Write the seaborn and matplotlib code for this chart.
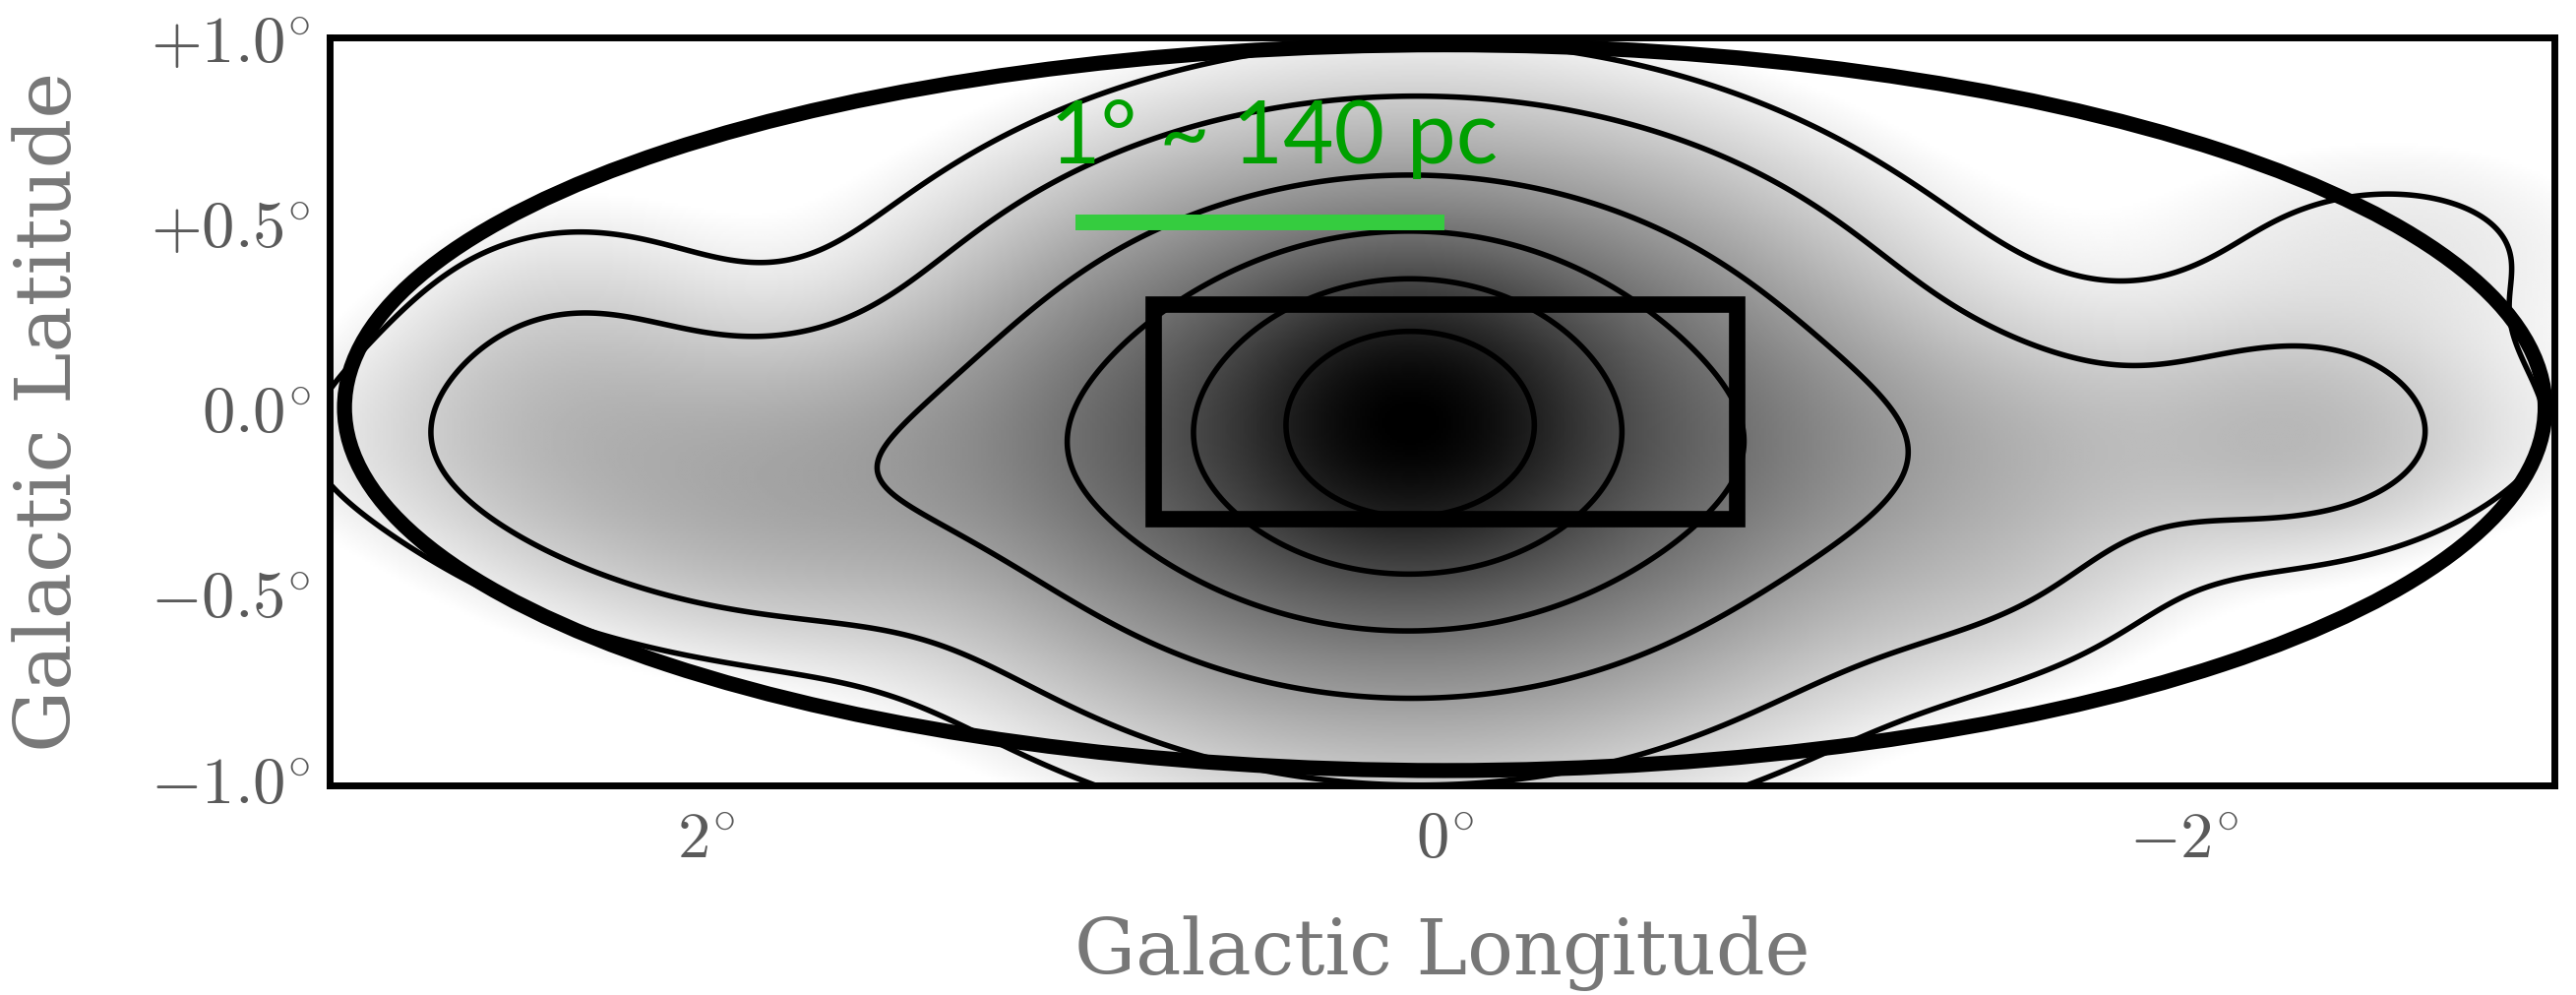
import numpy as np
import matplotlib
matplotlib.use("Agg")
import matplotlib.pyplot as plt
from matplotlib.colors import LogNorm
from matplotlib.patches import Ellipse, Rectangle
import seaborn as sns

# ---------------- data ----------------
# emission components (Galactic longitude / latitude in degrees)
comp_amp = [1.0, 0.30, 0.10, 0.036, 0.022, 0.016, 0.015, 0.010, 0.008, 0.006]
comp_l = [0.09, 0.13, 0.05, 0.00, 1.80, 2.38, -2.33, -1.45, -2.60, 0.40]
comp_b = [-0.035, -0.07, -0.10, -0.10, -0.30, 0.04, -0.07, -0.45, 0.45, -0.05]
comp_sl = [0.24, 0.50, 0.70, 1.50, 0.40, 0.32, 0.28, 0.35, 0.50, 3.20]
comp_sb = [0.19, 0.30, 0.47, 0.20, 0.22, 0.30, 0.20, 0.20, 0.25, 0.85]

# points on each contour (where they cross the plane)
anchor_l = [0.43, 0.68, 1.02, 1.48, 2.74, -2.98]
anchor_b = [-0.04, -0.05, -0.06, -0.06, -0.02, -0.04]

# overlays
ellipse_center = (0.0, 0.0)
ellipse_size = (5.96, 1.96)
box_l = [-0.79, 0.79]
box_b = [-0.30, 0.28]
bar_l = [1.0, 0.0]
bar_b = [0.5, 0.5]
scale_text = "1° ~ 140 pc"
text_pos = (1.07, 0.66)

xticks_major = [2, 0, -2]
xtick_labels = [r"$2^{\circ}$", r"$0^{\circ}$", r"$-2^{\circ}$"]
yticks_major = [1.0, 0.5, 0.0, -0.5, -1.0]
ytick_labels = [r"$+1.0^{\circ}$", r"$+0.5^{\circ}$", r"$0.0^{\circ}$",
                r"$-0.5^{\circ}$", r"$-1.0^{\circ}$"]
xlim = (3.02, -3.005)
ylim = (-1.02, 1.0)

# ---------------- figure ----------------
sns.set_style("white")
plt.rcParams["mathtext.fontset"] = "cm"

fig = plt.figure(figsize=(26.18, 10.11), dpi=100)
ax = fig.add_axes([0.128, 0.2107, 0.8636, 0.7517])

lg = np.linspace(3.1, -3.1, 900)
bg = np.linspace(-1.1, 1.1, 340)
L, B = np.meshgrid(lg, bg)


def field(l, b):
    f = np.zeros_like(np.asarray(l, dtype=float))
    for a, l0, b0, sl, sb in zip(comp_amp, comp_l, comp_b, comp_sl, comp_sb):
        f = f + a * np.exp(-0.5 * ((l - l0) / sl) ** 2 - 0.5 * ((b - b0) / sb) ** 2)
    return f


F = field(L, B)
levels = np.sort(field(np.array(anchor_l), np.array(anchor_b)))

ax.imshow(F, extent=[lg[0], lg[-1], bg[0], bg[-1]], origin="lower",
          cmap="gray_r", norm=LogNorm(vmin=levels[0] * 0.7, vmax=F.max()),
          aspect="auto", interpolation="bilinear", zorder=1)
ax.contour(L, B, F, levels=levels, colors="black", linewidths=4, zorder=2)

ax.add_patch(Ellipse(ellipse_center, ellipse_size[0], ellipse_size[1],
                     fill=False, edgecolor="black", linewidth=11, zorder=3))
ax.add_patch(Rectangle((box_l[0], box_b[0]), box_l[1] - box_l[0], box_b[1] - box_b[0],
                       fill=False, edgecolor="black", linewidth=12, zorder=3))

sns.lineplot(x=bar_l, y=bar_b, ax=ax, color="#35cc3f", linewidth=11.5,
             solid_capstyle="butt", zorder=4, legend=False)
ax.text(text_pos[0], text_pos[1], scale_text, color="#00a000", fontsize=64,
        family=["Lato", "DejaVu Sans"], ha="left", va="baseline", zorder=5)

ax.set_xlim(*xlim)
ax.set_ylim(*ylim)
ax.set_xticks(xticks_major)
ax.set_xticklabels(xtick_labels)
ax.set_yticks(yticks_major)
ax.set_yticklabels(ytick_labels)
ax.set_xticks(np.arange(-3.0, 3.01, 0.5), minor=True)
ax.set_yticks(np.arange(-1.0, 1.01, 0.1), minor=True)
ax.tick_params(which="both", direction="in", top=True, right=True,
               color="#444444", width=1.6, labelcolor="#5a5a5a", labelsize=48)
ax.tick_params(which="major", length=27, pad=14)
ax.tick_params(which="minor", length=10)
ax.tick_params(axis="x", pad=16)
for s in ax.spines.values():
    s.set_linewidth(5)
    s.set_color("black")
    s.set_zorder(6)

xl = ax.set_xlabel("Galactic Longitude", family="DejaVu Serif", fontsize=56,
                   color="#777777")
ax.xaxis.set_label_coords(0.5, -0.224)
xl.set_va("center")
yl = ax.set_ylabel("Galactic Latitude", family="DejaVu Serif", fontsize=57,
                   color="#777777")
ax.yaxis.set_label_coords(-0.126, 0.5)
yl.set_va("center")

fig.savefig("out.png", dpi=100)
